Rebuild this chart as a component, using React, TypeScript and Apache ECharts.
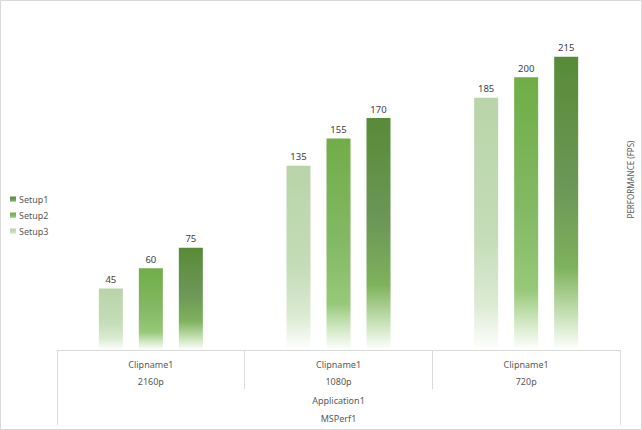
import React, { useEffect, useRef } from "react";
import * as echarts from "echarts";

const clipNames = ["Clipname1", "Clipname1", "Clipname1"];
const resolutions = ["2160p", "1080p", "720p"];
const application = "Application1";
const suite = "MSPerf1";
const setup1 = [75, 170, 215];
const setup2 = [60, 155, 200];
const setup3 = [45, 135, 185];
const legendOrder = ["Setup1", "Setup2", "Setup3"];

const grad = (stops: [number, string][]) =>
  new echarts.graphic.LinearGradient(
    0, 0, 0, 1,
    stops.map(([offset, color]) => ({ offset, color }))
  );

export default function App() {
  const ref = useRef<HTMLDivElement>(null);
  useEffect(() => {
    document.body.style.margin = "0";
    const chart = echarts.init(ref.current!, null, { renderer: "svg" });
    const font = "'Noto Sans', sans-serif";
    const labelStyle = {
      show: true,
      position: "top" as const,
      distance: 4,
      fontSize: 9.5,
      color: "#404040",
      fontFamily: font,
    };
    const cats = clipNames.map((c, i) => `${c}\n${resolutions[i]}`);
    chart.setOption({
      animation: false,
      backgroundColor: "#ffffff",
      textStyle: { fontFamily: font },
      grid: { left: 57, right: 22, top: 9, bottom: 80, containLabel: false },
      legend: {
        orient: "vertical",
        left: 5,
        top: 189,
        data: legendOrder,
        icon: "rect",
        itemWidth: 6,
        itemHeight: 6,
        itemGap: 5,
        textStyle: { fontSize: 9, color: "#595959", padding: [0, 0, 0, -2], lineHeight: 11 },
      },
      xAxis: [
        {
          type: "category",
          data: cats,
          position: "bottom",
          axisLine: { show: true, lineStyle: { color: "#d9d9d9", width: 1 } },
          axisTick: { show: true, length: 39, lineStyle: { color: "#d9d9d9" } },
          axisLabel: {
            color: "#595959",
            fontSize: 9,
            lineHeight: 17,
            margin: 6,
          },
        },
        {
          type: "category",
          data: [`${application}\n${suite}`],
          position: "bottom",
          axisLine: { show: false },
          axisTick: { show: true, length: 75, lineStyle: { color: "#d9d9d9" } },
          axisLabel: {
            color: "#595959",
            fontSize: 9,
            lineHeight: 18,
            margin: 41,
          },
        },
      ],
      yAxis: {
        type: "value",
        position: "right",
        min: 0,
        max: 250,
        axisLine: { show: false },
        axisTick: { show: false },
        axisLabel: { show: false },
        splitLine: { show: false },
        name: "PERFORMANCE (FPS)",
        nameLocation: "middle",
        nameRotate: 90,
        nameGap: 6,
        nameTextStyle: { fontSize: 8, color: "#595959" },
      },
      series: [
        {
          name: "Setup3",
          type: "bar",
          data: setup3,
          barWidth: 24,
          barGap: "66.7%",
          itemStyle: {
            color: grad([
              [0, "#b9d4a9"],
              [0.55, "#c4dcb7"],
              [0.82, "#dcebd3"],
              [1, "#ffffff"],
            ]),
          },
          label: labelStyle,
        },
        {
          name: "Setup2",
          type: "bar",
          data: setup2,
          barWidth: 24,
          barGap: "66.7%",
          itemStyle: {
            color: grad([
              [0, "#70ad47"],
              [0.5, "#84b965"],
              [0.78, "#96c878"],
              [0.9, "#d2e8c4"],
              [1, "#ffffff"],
            ]),
          },
          label: labelStyle,
        },
        {
          name: "Setup1",
          type: "bar",
          data: setup1,
          barWidth: 24,
          barGap: "66.7%",
          itemStyle: {
            color: grad([
              [0, "#578b37"],
              [0.45, "#6c9757"],
              [0.72, "#7eb25c"],
              [0.88, "#c6e1b5"],
              [1, "#ffffff"],
            ]),
          },
          label: labelStyle,
        },
      ],
      graphic: [
        {
          type: "rect",
          shape: { x: 0.5, y: 0.5, width: 641, height: 429 },
          style: { fill: "none", stroke: "#d9d9d9", lineWidth: 1 },
          silent: true,
        },
      ],
    });
    return () => chart.dispose();
  }, []);
  return (
    <div
      ref={ref}
      style={{ position: "absolute", left: 0, top: 0, width: 642, height: 430 }}
    />
  );
}
